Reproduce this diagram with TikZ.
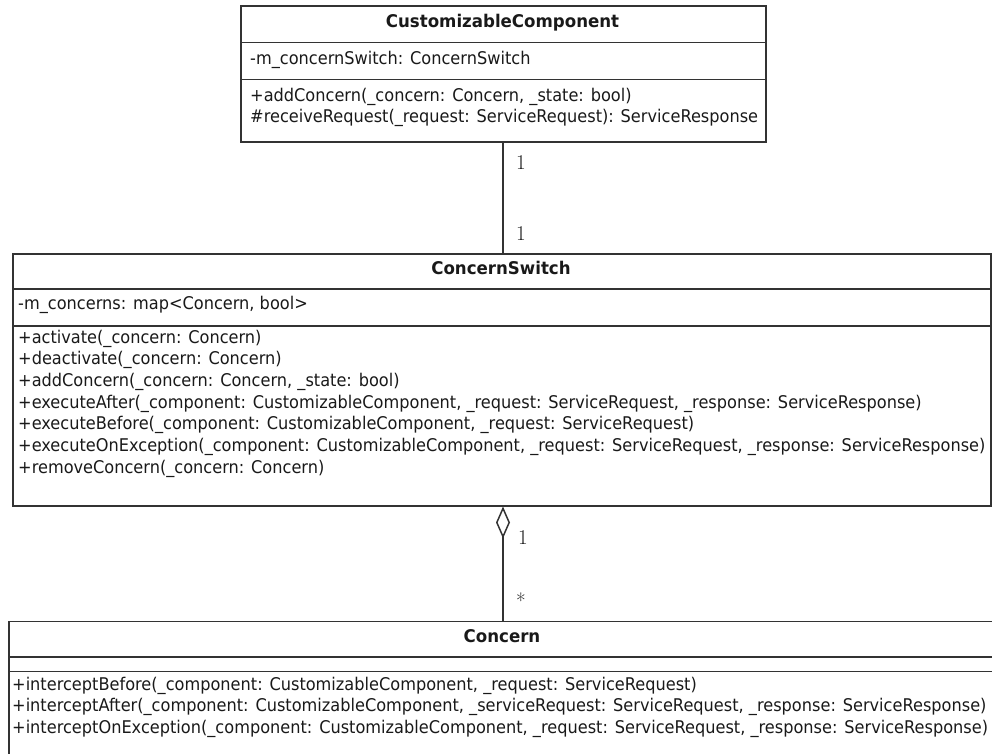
\documentclass[tikz,border=0pt]{standalone}
\usepackage{fontspec}
\newfontfamily\umlfont{DejaVu Sans}[FakeStretch=0.924, BoldFeatures={FakeStretch=0.95}]
\usetikzlibrary{arrows.meta}

\begin{document}
\begin{tikzpicture}[x=1pt,y=-1pt,
  classbox/.style={draw=black!80, line width=1.5pt, rectangle, inner sep=0pt, anchor=north west},
  sep/.style={draw=black!80, line width=1.5pt},
  member/.style={anchor=mid west, inner sep=0pt, text=black!90,
    font=\umlfont\fontsize{17.5}{20}\selectfont},
  title/.style={anchor=mid, inner sep=0pt, text=black!90,
    font=\umlfont\bfseries\fontsize{17.5}{20}\selectfont},
  mult/.style={anchor=center, inner sep=0pt, text=black!90, font=\fontsize{21}{21}\selectfont},
  link/.style={draw=black!80, line width=1.5pt}
]
\useasboundingbox (0,0) rectangle (992,753);
\clip (0,0) rectangle (992,753);

% CustomizableComponent
\node[classbox, minimum width=525pt, minimum height=136pt] (cc) at (240,5) {};
\draw[sep] (cc.west |- 0,42.7) -- (cc.east |- 0,42.7);
\draw[sep] (cc.west |- 0,79.3) -- (cc.east |- 0,79.3);
\node[title] (cct) at (502.5,25) {CustomizableComponent};
\node[member] (cca) at (250,62) {-m\_concernSwitch: ConcernSwitch};
\node[member] (ccm1) at (250,99) {+addConcern(\_concern: Concern, \_state: bool)};
\node[member] (ccm2) at (250,120) {\#receiveRequest(\_request: ServiceRequest): ServiceResponse};

% ConcernSwitch
\node[classbox, minimum width=978pt, minimum height=252pt] (cs) at (12,253) {};
\draw[sep] (cs.west |- 0,289) -- (cs.east |- 0,289);
\draw[sep] (cs.west |- 0,326) -- (cs.east |- 0,326);
\node[title] (cst) at (501,272) {ConcernSwitch};
\node[member] (csa) at (18,307) {-m\_concerns: map<Concern, bool>};
\node[member] (csm1) at (18,341) {+activate(\_concern: Concern)};
\node[member] (csm2) at (18,362.7) {+deactivate(\_concern: Concern)};
\node[member] (csm3) at (18,384.3) {+addConcern(\_concern: Concern, \_state: bool)};
\node[member] (csm4) at (18,406) {+executeAfter(\_component: CustomizableComponent, \_request: ServiceRequest, \_response: ServiceResponse)};
\node[member] (csm5) at (18,427.7) {+executeBefore(\_component: CustomizableComponent, \_request: ServiceRequest)};
\node[member] (csm6) at (18,449.3) {+executeOnException(\_component: CustomizableComponent, \_request: ServiceRequest, \_response: ServiceResponse)};
\node[member] (csm7) at (18,471) {+removeConcern(\_concern: Concern)};

% Concern
\node[classbox, minimum width=990pt, minimum height=140pt] (con) at (8,620.7) {};
\draw[sep] (con.west |- 0,657) -- (con.east |- 0,657);
\draw[sep] (con.west |- 0,671.7) -- (con.east |- 0,671.7);
\node[title] (cont) at (502,640) {Concern};
\node[member] (conm1) at (12,688) {+interceptBefore(\_component: CustomizableComponent, \_request: ServiceRequest)};
\node[member] (conm2) at (12,709.8) {+interceptAfter(\_component: CustomizableComponent, \_serviceRequest: ServiceRequest, \_response: ServiceResponse)};
\node[member] (conm3) at (12,731.6) {+interceptOnException(\_component: CustomizableComponent, \_request: ServiceRequest, \_response: ServiceResponse)};

% associations
\coordinate (ax) at (503,0);
\draw[link] (ax |- cc.south) -- (ax |- cs.north);
\node[mult] (m1) at (521,163) {1};
\node[mult] (m2) at (521,234) {1};
\draw[link, {Diamond[open, length=32pt, width=14pt]}-] (ax |- cs.south) -- (ax |- con.north);
\node[mult] (m3) at (523,538) {1};
\node[mult] (m4) at (521,601) {*};
\end{tikzpicture}
\end{document}
